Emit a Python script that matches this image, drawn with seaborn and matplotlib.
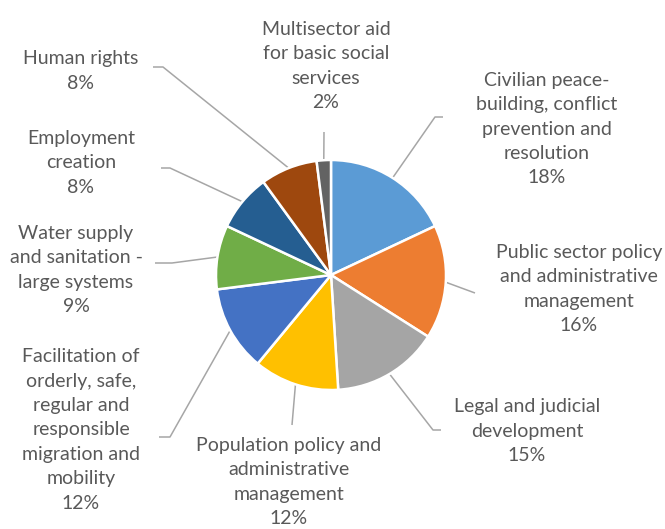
import numpy as np
import matplotlib
matplotlib.use("Agg")
import matplotlib.pyplot as plt
import seaborn as sns

# Sector shares, clockwise from 12 o'clock
sectors = [
    "Civilian peace-\nbuilding, conflict\nprevention and\nresolution",
    "Public sector policy\nand administrative\nmanagement",
    "Legal and judicial\ndevelopment",
    "Population policy and\nadministrative\nmanagement",
    "Facilitation of\norderly, safe,\nregular and\nresponsible\nmigration and\nmobility",
    "Water supply\nand sanitation -\nlarge systems",
    "Employment\ncreation",
    "Human rights",
    "Multisector aid\nfor basic social\nservices",
]
shares = [18, 16, 15, 12, 12, 9, 8, 8, 2]
colors = ["#5B9BD5", "#ED7D31", "#A5A5A5", "#FFC000", "#4472C4",
          "#70AD47", "#255E91", "#9E480E", "#636363"]

W, H = 665, 529
CX, CY, R = 331, 275, 115          # pie centre / radius in pixels (y from top)

# label block centres (pixels, y from top)
label_xy = [(547, 129), (579, 289), (527, 431), (289, 482), (81, 430),
            (76, 270), (81, 163), (81, 71), (326, 66)]
# leader line path after leaving the wedge (pixels, y from top)
leader_pts = [
    [(435, 117), (443, 117)],
    [(475, 293)],
    [(433, 430), (441, 430)],
    [(292, 425)],
    [(170, 437), (159, 437)],
    [(172, 263), (155, 263)],
    [(170, 168), (161, 168)],
    [(163, 67), (153, 67)],
    [(324, 132)],
]

sns.set_theme(style="white")
plt.rcParams["font.family"] = ["Lato", "DejaVu Sans"]

fig = plt.figure(figsize=(W / 100, H / 100), dpi=100)
ax = fig.add_axes([0, 0, 1, 1])


def fy(y):
    return H - y


wedges, _ = ax.pie(shares, colors=colors, startangle=90, counterclock=False,
                   center=(CX, fy(CY)), radius=R, frame=True,
                   wedgeprops=dict(edgecolor="white", linewidth=1.8))
ax.set_xlim(0, W)
ax.set_ylim(0, H)
ax.set_aspect("equal")
ax.axis("off")

text_color = "#595959"
line_color = "#A6A6A6"
for w, name, val, (lx, ly), pts in zip(wedges, sectors, shares, label_xy, leader_pts):
    mid = np.deg2rad((w.theta1 + w.theta2) / 2)
    sx = CX + R * np.cos(mid)
    sy = fy(CY) + R * np.sin(mid)
    xs = [sx] + [p[0] for p in pts]
    ys = [sy] + [fy(p[1]) for p in pts]
    ax.plot(xs, ys, color=line_color, lw=1.1, solid_capstyle="butt", zorder=0)
    ax.text(lx, fy(ly), f"{name}\n{val}%", ha="center", va="center",
            fontsize=14, color=text_color,
            linespacing=1.53, multialignment="center")

fig.savefig("out.png", dpi=100)
